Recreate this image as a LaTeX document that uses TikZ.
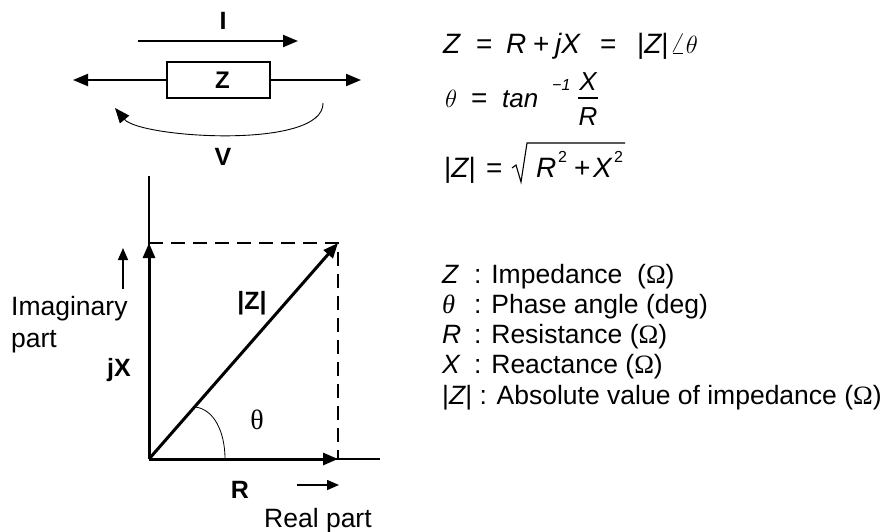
\documentclass[tikz,border=0pt]{standalone}
\usepackage{fontspec}
\setmainfont{Liberation Sans}
\newfontfamily\serif{Liberation Serif}
\usetikzlibrary{arrows.meta}
\tikzset{
  bigtip/.style={-{Triangle[length=15pt,width=12pt]}},
  smalltip/.style={-{Triangle[length=12pt,width=10pt]}},
  vec/.style={line width=3pt,bigtip},
  wire/.style={line width=2pt,bigtip},
  axis/.style={line width=1.3pt},
  guide/.style={line width=1.8pt,dash pattern=on 14pt off 8pt},
  lbl/.style={inner sep=0pt,font=\fontsize{25}{28}\selectfont\bfseries},
  txt/.style={inner sep=0pt,anchor=base west,font=\fontsize{26.5}{30}\selectfont},
  eq/.style={inner sep=0pt,anchor=base west,font=\fontsize{28}{32}\selectfont\itshape},
  sup/.style={inner sep=0pt,anchor=base west,font=\fontsize{16}{18}\selectfont},
}
\begin{document}
\begin{tikzpicture}[x=1pt,y=-1pt]
\useasboundingbox (0,0) rectangle (883,531);
% circuit
\node[draw,line width=1.3pt,minimum width=103pt,minimum height=36pt,inner sep=0pt,
      font=\fontsize{24}{28}\selectfont\bfseries] (box) at (218.5,80) {\hspace*{8pt}Z};
\coordinate (wl) at (73,80);
\coordinate (wr) at (361,80);
\draw[wire] (box.west) -- (wl);
\draw[wire] (box.east) -- (wr);
\node[lbl] (I) at (223,21) {I};
\coordinate (ia) at (138,41);
\coordinate (ib) at (298,41);
\draw[wire] (ia) -- (ib);
\coordinate (va) at (323,103);
\coordinate (vb) at (115,108);
\draw[line width=0.9pt,bigtip] (va) .. controls (324,150) and (140,138) .. (vb);
\node[lbl] (V) at (223,157) {V};
% phasor diagram
\coordinate (O) at (149,459);
\coordinate (ytop) at (149,176);
\coordinate (xend) at (380,459);
\coordinate (jx) at (149,243);
\coordinate (rx) at (338,459);
\coordinate (zt) at (338,243);
\draw[axis] (O) -- (ytop);
\draw[axis] (O) -- (xend);
\draw[guide] (jx) -- (zt) -- (rx);
\draw[vec] (O) -- (jx);
\draw[vec] (O) -- (rx);
\draw[vec] (O) -- (zt);
\coordinate (a1) at (195,407);
\coordinate (a2) at (225,459);
\draw[line width=0.8pt] (a1) .. controls (214,409) and (225,432) .. (a2);
\node[inner sep=0pt,font=\fontsize{28}{30}\selectfont\serif] (th) at (257,420) {θ};
\node[lbl] (absz) at (252,303) {|Z|};
\node[lbl] (jX) at (119,370) {jX};
\node[lbl] (R) at (240,490) {R};
\coordinate (ua) at (123,289);
\coordinate (ub) at (123,248);
\draw[line width=1.6pt,smalltip] (ua) -- (ub);
\coordinate (ra) at (297,485);
\coordinate (rb) at (339,485);
\draw[line width=1.6pt,smalltip] (ra) -- (rb);
\node[txt] (imag) at (11,315) {Imaginary};
\node[txt] (part) at (11,347) {part};
\node[txt] (real) at (264,527) {Real part};
% equation 1
\node[eq] (eq1) at (443,53) {\rlap{Z}\hspace{33pt}\rlap{\upshape=}\hspace{30pt}\rlap{R}\hspace{27pt}\rlap{\upshape+}\hspace{22pt}jX\hspace{20pt}\rlap{\upshape=}\hspace{37pt}{\upshape|}Z{\upshape|}\hspace{1pt}$\angle\theta$};
% equation 2
\node[eq] (eq2a) at (445,107) {\rlap{$\theta$}\hspace{26pt}\rlap{\upshape=}\hspace{31pt}{\fontsize{26}{30}\selectfont tan}};
\node[sup,font=\fontsize{16}{18}\selectfont\itshape] (eq2b) at (552,90) {−1};
\node[inner sep=0pt,anchor=base,font=\fontsize{26}{30}\selectfont\itshape] (eq2x) at (588,90) {X};
\node[inner sep=0pt,anchor=base,font=\fontsize{26}{30}\selectfont\itshape] (eq2r) at (588,125) {R};
\coordinate (fa) at (578,98);
\coordinate (fb) at (598,98);
\draw[line width=1.3pt] (fa) -- (fb);
% equation 3
\node[eq] (eq3a) at (444,177) {\rlap{{\upshape|}Z{\upshape|}}\hspace{42pt}{\upshape=}};
\coordinate (s1) at (512,168);
\coordinate (s2) at (516,165);
\coordinate (s3) at (521,182);
\coordinate (s4) at (527,143);
\coordinate (s5) at (625,143);
\draw[line width=1.1pt] (s1) -- (s2) -- (s3) -- (s4) -- (s5);
\node[eq] (eq3r) at (536,177) {R};
\node[sup] (eq3r2) at (558,162) {2};
\node[eq,font=\fontsize{28}{32}\selectfont] (eq3p) at (574,177) {+};
\node[eq] (eq3x) at (593,177) {X};
\node[sup] (eq3x2) at (614,162) {2};
% legend
\node[txt,font=\fontsize{26.5}{30}\selectfont\itshape] (l1s) at (442,283) {Z};
\node[txt] (l1t) at (474,283) {: Impedance \ ({\serif Ω})};
\node[txt,font=\fontsize{26.5}{30}\selectfont\serif\itshape] (l2s) at (442,313) {θ};
\node[txt] (l2t) at (474,313) {: Phase angle (deg)};
\node[txt,font=\fontsize{26.5}{30}\selectfont\itshape] (l3s) at (442,343) {R};
\node[txt] (l3t) at (474,343) {: Resistance ({\serif Ω})};
\node[txt,font=\fontsize{26.5}{30}\selectfont\itshape] (l4s) at (442,373) {X};
\node[txt] (l4t) at (474,373) {: Reactance ({\serif Ω})};
\node[txt] (l5) at (442,404) {|{\itshape Z}| : Absolute value of impedance ({\serif Ω})};
\end{tikzpicture}
\end{document}
